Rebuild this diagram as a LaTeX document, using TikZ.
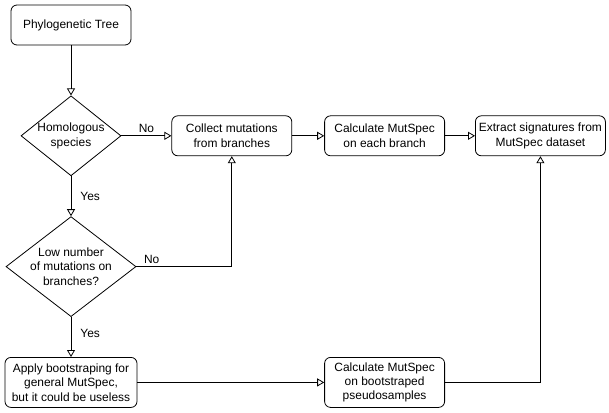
\documentclass[tikz,border=0pt]{standalone}
\usepackage{fontspec}
\setmainfont{Liberation Sans}
\usetikzlibrary{arrows.meta, positioning, shapes.geometric}
\tikzset{
    block/.style = {draw, rectangle, rounded corners=6bp, align=center, minimum height=40bp, minimum width=120bp},
    decision/.style = {draw, diamond, align=center, inner sep=-8bp},
    edgelabel/.style = {inner sep=3bp}
}

\begin{document}
\begin{tikzpicture}[x=1bp, y=-1bp, line width=0.8bp, >={Triangle[open, length=7bp, width=8bp]},
    font=\fontsize{12}{14.5}\selectfont]
    \useasboundingbox (0,0) rectangle (609,412);
    % Nodes
    \node [block] (tree) at (71,25) {Phylogenetic Tree};
    \node [decision, below=50bp of tree, minimum width=100bp, minimum height=80bp] (homol) {Homologous\\species};
    \node [block, right=50bp of homol] (collect) {Collect mutations\\from branches};
    \node [block, right=32bp of collect] (calc) {Calculate MutSpec\\on each branch};
    \node [block, right=30bp of calc, minimum width=130bp] (extract) {Extract signatures from\\MutSpec dataset};
    \node [decision, below=40bp of homol, minimum width=130bp, minimum height=100bp] (low) {Low number\\of mutations on\\branches?};
    \node [block, below=40bp of low, minimum width=132bp, minimum height=50bp] (apply) {Apply bootstraping for\\general MutSpec,\\but it could be useless};
    \node [block, minimum height=50bp] (boot) at (calc |- apply) {Calculate MutSpec\\on bootstraped\\pseudosamples};

    % Arrows
    \draw [->] (tree) -- (homol);
    \draw [->] (homol) -- node [edgelabel, above] {No} (collect);
    \draw [->] (collect) -- (calc);
    \draw [->] (calc) -- (extract);
    \draw [->] (homol) -- node [edgelabel, right=6bp] {Yes} (low);
    \draw [->] (low.east) -| node [edgelabel, pos=0.08, above] {No} (collect.south);
    \draw [->] (low) -- node [edgelabel, pos=0.4, right=6bp] {Yes} (apply);
    \draw [->] (apply) -- (boot);
    \draw [->] (boot.east) -| (extract.south);
\end{tikzpicture}
\end{document}
